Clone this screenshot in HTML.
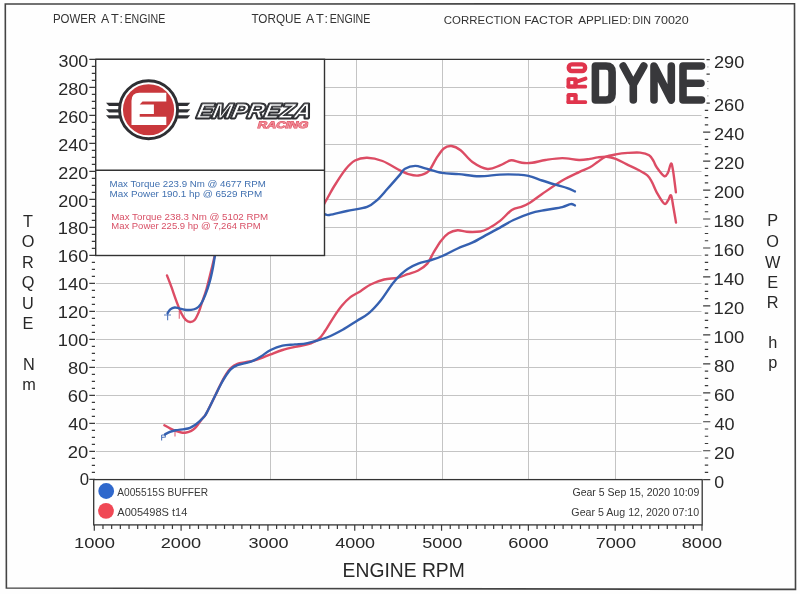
<!DOCTYPE html>
<html><head><meta charset="utf-8"><style>
html,body{margin:0;padding:0;background:#fff;}
svg{display:block;font-family:"Liberation Sans", sans-serif;will-change:transform;}
</style></head><body>
<svg width="800" height="594" viewBox="0 0 800 594">
<rect width="800" height="594" fill="#fefefe"/>
<g stroke="#c4c4c4" stroke-width="1"><line x1="96" y1="451.5" x2="701.5" y2="451.5"/><line x1="96" y1="423.5" x2="701.5" y2="423.5"/><line x1="96" y1="395.5" x2="701.5" y2="395.5"/><line x1="96" y1="367.5" x2="701.5" y2="367.5"/><line x1="96" y1="339.5" x2="701.5" y2="339.5"/><line x1="96" y1="311.5" x2="701.5" y2="311.5"/><line x1="96" y1="283.5" x2="701.5" y2="283.5"/><line x1="96" y1="255.5" x2="701.5" y2="255.5"/><line x1="96" y1="227.5" x2="701.5" y2="227.5"/><line x1="96" y1="199.5" x2="701.5" y2="199.5"/><line x1="96" y1="171.5" x2="701.5" y2="171.5"/><line x1="96" y1="144.5" x2="701.5" y2="144.5"/><line x1="96" y1="115.5" x2="701.5" y2="115.5"/><line x1="96" y1="87.5" x2="701.5" y2="87.5"/><line x1="184.5" y1="59.5" x2="184.5" y2="479.3"/><line x1="270.5" y1="59.5" x2="270.5" y2="479.3"/><line x1="356.5" y1="59.5" x2="356.5" y2="479.3"/><line x1="442.5" y1="59.5" x2="442.5" y2="479.3"/><line x1="528.5" y1="59.5" x2="528.5" y2="479.3"/><line x1="615.5" y1="59.5" x2="615.5" y2="479.3"/></g><path d="M164.40,425.30 C165.33,425.82 168.13,427.47 170.00,428.40 C171.87,429.33 173.72,430.22 175.60,430.90 C177.47,431.58 179.47,432.23 181.25,432.50 C183.03,432.77 184.58,432.77 186.25,432.50 C187.92,432.23 189.79,431.63 191.25,430.90 C192.71,430.17 193.86,429.18 195.00,428.10 C196.14,427.02 196.93,425.92 198.10,424.40 C199.27,422.88 200.85,420.47 202.00,419.00 C203.15,417.53 203.98,417.10 205.00,415.60 C206.02,414.10 206.43,413.27 208.10,410.00 C209.77,406.73 212.85,400.42 215.00,396.00 C217.15,391.58 219.17,387.08 221.00,383.50 C222.83,379.92 224.33,377.08 226.00,374.50 C227.67,371.92 229.10,369.78 231.00,368.00 C232.90,366.22 234.98,364.77 237.40,363.80 C239.82,362.83 242.82,362.73 245.50,362.20 C248.18,361.67 250.88,361.28 253.50,360.60 C256.12,359.92 258.40,359.13 261.25,358.10 C264.10,357.07 267.06,355.75 270.60,354.40 C274.14,353.05 278.43,351.25 282.50,350.00 C286.57,348.75 290.83,347.83 295.00,346.90 C299.17,345.97 303.60,345.68 307.50,344.40 C311.40,343.12 315.45,341.47 318.40,339.20 C321.35,336.93 322.67,334.45 325.20,330.80 C327.73,327.15 330.80,321.50 333.60,317.30 C336.40,313.10 339.20,308.97 342.00,305.60 C344.80,302.23 347.32,299.50 350.40,297.10 C353.48,294.70 357.13,293.30 360.50,291.20 C363.87,289.10 366.67,286.45 370.60,284.50 C374.53,282.55 379.62,280.62 384.10,279.50 C388.58,278.38 393.58,278.68 397.50,277.80 C401.42,276.92 404.15,275.42 407.60,274.20 C411.05,272.98 414.92,272.27 418.20,270.50 C421.48,268.73 424.78,266.52 427.30,263.60 C429.82,260.68 431.03,256.78 433.30,253.00 C435.57,249.22 438.37,244.18 440.90,240.90 C443.43,237.62 445.72,235.07 448.50,233.30 C451.28,231.53 454.57,230.55 457.60,230.30 C460.63,230.05 462.92,231.60 466.70,231.80 C470.48,232.00 476.77,232.00 480.30,231.50 C483.83,231.00 484.62,230.57 487.90,228.80 C491.18,227.03 496.02,224.03 500.00,220.90 C503.98,217.77 508.15,212.38 511.80,210.00 C515.45,207.62 518.82,207.87 521.90,206.60 C524.98,205.33 526.93,204.50 530.30,202.40 C533.67,200.30 536.77,197.65 542.10,194.00 C547.43,190.35 556.13,184.15 562.30,180.50 C568.47,176.85 574.48,174.30 579.10,172.10 C583.72,169.90 586.92,168.98 590.00,167.30 C593.08,165.62 595.07,163.72 597.60,162.00 C600.13,160.28 602.17,158.27 605.20,157.00 C608.23,155.73 612.02,155.08 615.80,154.40 C619.58,153.72 623.87,153.20 627.90,152.90 C631.93,152.60 636.47,152.22 640.00,152.60 C643.53,152.98 646.83,153.77 649.10,155.20 C651.37,156.63 652.33,159.18 653.60,161.20 C654.87,163.22 654.93,164.82 656.70,167.30 C658.47,169.78 662.32,175.22 664.20,176.10 C666.08,176.98 666.87,174.70 668.00,172.60 C669.13,170.50 670.17,163.88 671.00,163.50 C671.83,163.12 672.18,165.50 673.00,170.30 C673.82,175.10 675.42,188.63 675.90,192.30" fill="none" stroke="#dc4c64" stroke-width="2.4" stroke-linejoin="round" stroke-linecap="round"/><path d="M167.00,275.40 C167.73,277.32 169.83,282.62 171.40,286.90 C172.97,291.18 174.75,296.72 176.40,301.10 C178.05,305.48 179.75,310.08 181.30,313.20 C182.85,316.32 184.25,318.33 185.70,319.80 C187.15,321.27 188.55,321.92 190.00,322.00 C191.45,322.08 192.93,321.95 194.40,320.30 C195.87,318.65 197.52,315.12 198.80,312.10 C200.08,309.08 200.82,306.03 202.10,302.20 C203.38,298.37 204.85,294.93 206.50,289.10 C208.15,283.27 210.42,273.72 212.00,267.20 C213.58,260.68 214.33,257.53 216.00,250.00 C217.67,242.47 208.00,222.83 222.00,222.00 C236.00,221.17 282.88,248.17 300.00,245.00 C317.12,241.83 319.03,212.75 324.70,203.00 C330.37,193.25 330.52,192.13 334.00,186.50 C337.48,180.87 342.10,173.53 345.60,169.20 C349.10,164.87 351.42,162.40 355.00,160.50 C358.58,158.60 362.52,157.72 367.10,157.80 C371.68,157.88 377.02,158.90 382.50,161.00 C387.98,163.10 395.68,168.22 400.00,170.40 C404.32,172.58 405.32,173.25 408.40,174.10 C411.48,174.95 415.13,175.98 418.50,175.50 C421.87,175.02 425.65,174.02 428.60,171.20 C431.55,168.38 433.67,162.38 436.20,158.60 C438.73,154.82 441.28,150.60 443.80,148.50 C446.32,146.40 448.50,145.72 451.30,146.00 C454.10,146.28 457.08,147.53 460.60,150.20 C464.12,152.87 467.92,158.87 472.40,162.00 C476.88,165.13 482.90,168.43 487.50,169.00 C492.10,169.57 496.80,166.57 500.00,165.40 C503.20,164.23 504.73,162.85 506.70,162.00 C508.67,161.15 509.27,160.17 511.80,160.30 C514.33,160.43 518.53,162.38 521.90,162.80 C525.27,163.22 528.07,163.27 532.00,162.80 C535.93,162.33 540.45,160.78 545.50,160.00 C550.55,159.22 556.70,158.10 562.30,158.10 C567.90,158.10 574.48,159.87 579.10,160.00 C583.72,160.13 586.92,159.33 590.00,158.90 C593.08,158.47 594.82,157.77 597.60,157.40 C600.38,157.03 603.67,156.45 606.70,156.70 C609.73,156.95 612.52,157.65 615.80,158.90 C619.08,160.15 622.62,162.35 626.40,164.20 C630.18,166.05 634.97,168.10 638.50,170.00 C642.03,171.90 645.33,173.53 647.60,175.60 C649.87,177.67 650.58,179.62 652.10,182.40 C653.62,185.18 654.68,188.77 656.70,192.30 C658.72,195.83 662.32,202.22 664.20,203.60 C666.08,204.98 666.87,201.98 668.00,200.60 C669.13,199.22 670.12,194.28 671.00,195.30 C671.88,196.32 672.47,202.15 673.30,206.70 C674.13,211.25 675.55,219.95 676.00,222.60" fill="none" stroke="#dc4c64" stroke-width="2.4" stroke-linejoin="round" stroke-linecap="round"/><path d="M165.00,434.40 C165.83,433.98 168.23,432.58 170.00,431.90 C171.77,431.22 173.20,430.77 175.60,430.30 C178.00,429.83 182.00,429.52 184.40,429.10 C186.80,428.68 188.23,428.48 190.00,427.80 C191.77,427.12 193.33,426.15 195.00,425.00 C196.67,423.85 198.33,422.47 200.00,420.90 C201.67,419.33 203.65,417.42 205.00,415.60 C206.35,413.78 206.43,413.27 208.10,410.00 C209.77,406.73 212.85,400.33 215.00,396.00 C217.15,391.67 219.17,387.42 221.00,384.00 C222.83,380.58 224.33,378.00 226.00,375.50 C227.67,373.00 229.10,370.72 231.00,369.00 C232.90,367.28 234.98,366.18 237.40,365.20 C239.82,364.22 242.82,363.87 245.50,363.10 C248.18,362.33 250.88,361.74 253.50,360.60 C256.12,359.46 258.40,358.02 261.25,356.25 C264.10,354.48 267.06,351.77 270.60,350.00 C274.14,348.23 278.43,346.53 282.50,345.60 C286.57,344.67 290.83,344.82 295.00,344.40 C299.17,343.98 302.20,344.25 307.50,343.10 C312.80,341.95 320.77,339.83 326.80,337.50 C332.83,335.17 338.65,331.90 343.70,329.10 C348.75,326.30 352.90,323.37 357.10,320.70 C361.30,318.03 364.97,316.47 368.90,313.10 C372.83,309.73 376.77,305.40 380.70,300.50 C384.63,295.60 389.13,288.05 392.50,283.70 C395.87,279.35 398.38,276.87 400.90,274.40 C403.42,271.93 404.72,270.70 407.60,268.90 C410.48,267.10 414.42,265.03 418.20,263.60 C421.98,262.17 426.27,261.57 430.30,260.30 C434.33,259.03 437.85,257.97 442.40,256.00 C446.95,254.03 452.55,250.77 457.60,248.50 C462.65,246.23 467.65,244.80 472.70,242.40 C477.75,240.00 483.35,236.57 487.90,234.10 C492.45,231.63 495.73,229.95 500.00,227.60 C504.27,225.25 508.45,222.38 513.50,220.00 C518.55,217.62 524.97,214.97 530.30,213.30 C535.63,211.63 540.17,211.03 545.50,210.00 C550.83,208.97 558.10,208.08 562.30,207.10 C566.50,206.12 568.60,204.38 570.70,204.10 C572.80,203.82 574.20,205.18 574.90,205.40" fill="none" stroke="#3560b0" stroke-width="2.4" stroke-linejoin="round" stroke-linecap="round"/><path d="M167.60,313.20 C168.05,312.57 169.12,310.35 170.30,309.40 C171.48,308.45 173.23,307.68 174.70,307.50 C176.17,307.32 177.45,307.93 179.10,308.30 C180.75,308.67 182.60,309.43 184.60,309.70 C186.60,309.97 189.10,310.13 191.10,309.90 C193.10,309.67 194.95,309.30 196.60,308.30 C198.25,307.30 199.53,306.18 201.00,303.90 C202.47,301.62 203.93,298.35 205.40,294.60 C206.87,290.85 208.53,285.97 209.80,281.40 C211.07,276.83 211.97,272.43 213.00,267.20 C214.03,261.97 214.50,257.03 216.00,250.00 C217.50,242.97 209.67,231.33 222.00,225.00 C234.33,218.67 274.50,214.00 290.00,212.00 C305.50,210.00 309.22,212.62 315.00,213.00 C320.78,213.38 322.30,213.97 324.70,214.30 C327.10,214.63 325.70,215.55 329.40,215.00 C333.10,214.45 340.62,212.35 346.90,211.00 C353.18,209.65 362.02,208.77 367.10,206.90 C372.18,205.03 374.00,202.82 377.40,199.80 C380.80,196.78 383.73,193.00 387.50,188.80 C391.27,184.60 397.08,177.95 400.00,174.60 C402.92,171.25 402.47,170.15 405.00,168.70 C407.53,167.25 411.82,165.95 415.20,165.90 C418.58,165.85 420.82,167.23 425.30,168.40 C429.78,169.57 436.50,171.95 442.10,172.90 C447.70,173.85 452.73,173.53 458.90,174.10 C465.07,174.67 472.25,176.22 479.10,176.30 C485.95,176.38 493.72,174.88 500.00,174.60 C506.28,174.32 512.03,174.40 516.80,174.60 C521.57,174.80 524.38,174.82 528.60,175.80 C532.82,176.78 537.60,179.02 542.10,180.50 C546.60,181.98 551.40,183.43 555.60,184.70 C559.80,185.97 564.08,186.98 567.30,188.10 C570.52,189.22 573.63,190.85 574.90,191.40" fill="none" stroke="#3560b0" stroke-width="2.4" stroke-linejoin="round" stroke-linecap="round"/><path d="M167.6,313 L167.6,320.3 M164,315 L171,315" stroke="#3560b0" stroke-width="1.2" fill="none" opacity="0.8"/><path d="M179.3,311 L179.3,318.7" stroke="#dc4c64" stroke-width="1.2" fill="none" opacity="0.8"/><path d="M161.6,435 L161.6,440.6 M161.6,435 L165.3,435 L165.3,437 L161.6,437.5" stroke="#3560b0" stroke-width="1.1" fill="none" opacity="0.85"/><path d="M175,431.9 L175,436.6" stroke="#dc4c64" stroke-width="1.2" fill="none" opacity="0.8"/><rect x="95.7" y="59.3" width="228.8" height="196.2" fill="#fff" stroke="#333" stroke-width="1.4"/><line x1="95.7" y1="170.3" x2="324.5" y2="170.3" stroke="#333" stroke-width="1.6"/><line x1="95.7" y1="59.4" x2="704.5" y2="59.4" stroke="#333" stroke-width="1.3"/><text x="109.61" y="187.40" font-size="9.52" fill="#4070b0" textLength="156.28" lengthAdjust="spacingAndGlyphs">Max Torque 223.9 Nm @ 4677 RPM</text><text x="109.59" y="197.30" font-size="9.52" fill="#4070b0" textLength="152.52" lengthAdjust="spacingAndGlyphs">Max Power 190.1 hp @ 6529 RPM</text><text x="111.21" y="219.50" font-size="9.52" fill="#d85066" textLength="156.88" lengthAdjust="spacingAndGlyphs">Max Torque 238.3 Nm @ 5102 RPM</text><text x="111.22" y="228.90" font-size="9.52" fill="#d85066" textLength="149.46" lengthAdjust="spacingAndGlyphs">Max Power 225.9 hp @ 7,264 RPM</text><path d="M707,95.91H708.6 M707,88.67H708.6 M707,81.42H708.6 M707,66.94H708.6" stroke="#aaa" stroke-width="1" fill="none"/><path d="M89.3,479.30H95 M91.8,472.30H95 M91.8,465.30H95 M91.8,458.30H95 M89.3,451.30H95 M91.8,444.30H95 M91.8,437.30H95 M91.8,430.30H95 M89.3,423.30H95 M91.8,416.30H95 M91.8,409.30H95 M91.8,402.30H95 M89.3,395.30H95 M91.8,388.30H95 M91.8,381.30H95 M91.8,374.30H95 M89.3,367.30H95 M91.8,360.30H95 M91.8,353.30H95 M91.8,346.30H95 M89.3,339.30H95 M91.8,332.30H95 M91.8,325.30H95 M91.8,318.30H95 M89.3,311.30H95 M91.8,304.30H95 M91.8,297.30H95 M91.8,290.30H95 M89.3,283.30H95 M91.8,276.30H95 M91.8,269.30H95 M91.8,262.30H95 M89.3,255.30H95 M91.8,248.30H95 M91.8,241.30H95 M91.8,234.30H95 M89.3,227.30H95 M91.8,220.30H95 M91.8,213.30H95 M91.8,206.30H95 M89.3,199.30H95 M91.8,192.30H95 M91.8,185.30H95 M91.8,178.30H95 M89.3,171.30H95 M91.8,164.30H95 M91.8,157.30H95 M91.8,150.30H95 M89.3,143.30H95 M91.8,136.30H95 M91.8,129.30H95 M91.8,122.30H95 M89.3,115.30H95 M91.8,108.30H95 M91.8,101.30H95 M91.8,94.30H95 M89.3,87.30H95 M91.8,80.30H95 M91.8,73.30H95 M91.8,66.30H95 M89.3,59.30H95 M703.1,479.70H710.3 M704.8,472.46H708.2 M704.8,465.22H708.2 M704.8,457.98H708.2 M703.1,450.73H710.3 M704.8,443.49H708.2 M704.8,436.25H708.2 M704.8,429.01H708.2 M703.1,421.77H710.3 M704.8,414.53H708.2 M704.8,407.29H708.2 M704.8,400.04H708.2 M703.1,392.80H710.3 M704.8,385.56H708.2 M704.8,378.32H708.2 M704.8,371.08H708.2 M703.1,363.84H710.3 M704.8,356.60H708.2 M704.8,349.36H708.2 M704.8,342.11H708.2 M703.1,334.87H710.3 M704.8,327.63H708.2 M704.8,320.39H708.2 M704.8,313.15H708.2 M703.1,305.91H710.3 M704.8,298.67H708.2 M704.8,291.42H708.2 M704.8,284.18H708.2 M703.1,276.94H710.3 M704.8,269.70H708.2 M704.8,262.46H708.2 M704.8,255.22H708.2 M703.1,247.98H710.3 M704.8,240.73H708.2 M704.8,233.49H708.2 M704.8,226.25H708.2 M703.1,219.01H710.3 M704.8,211.77H708.2 M704.8,204.53H708.2 M704.8,197.29H708.2 M703.1,190.04H710.3 M704.8,182.80H708.2 M704.8,175.56H708.2 M704.8,168.32H708.2 M703.1,161.08H710.3 M704.8,153.84H708.2 M704.8,146.60H708.2 M704.8,139.36H708.2 M703.1,132.11H710.3 M704.8,124.87H708.2 M704.8,117.63H708.2 M704.8,110.39H708.2 M706.5,103.15H709.8 M706.5,74.18H709.8 M706.5,59.70H709.8 M94.30,525V530.8 M102.98,525V528.9 M111.66,525V528.9 M120.34,525V528.9 M129.03,525V528.9 M137.71,525V528.9 M146.39,525V528.9 M155.07,525V528.9 M163.75,525V528.9 M172.43,525V528.9 M181.11,525V530.8 M189.80,525V528.9 M198.48,525V528.9 M207.16,525V528.9 M215.84,525V528.9 M224.52,525V528.9 M233.20,525V528.9 M241.88,525V528.9 M250.57,525V528.9 M259.25,525V528.9 M267.93,525V530.8 M276.61,525V528.9 M285.29,525V528.9 M293.97,525V528.9 M302.65,525V528.9 M311.34,525V528.9 M320.02,525V528.9 M328.70,525V528.9 M337.38,525V528.9 M346.06,525V528.9 M354.74,525V530.8 M363.42,525V528.9 M372.11,525V528.9 M380.79,525V528.9 M389.47,525V528.9 M398.15,525V528.9 M406.83,525V528.9 M415.51,525V528.9 M424.19,525V528.9 M432.88,525V528.9 M441.56,525V530.8 M450.24,525V528.9 M458.92,525V528.9 M467.60,525V528.9 M476.28,525V528.9 M484.96,525V528.9 M493.65,525V528.9 M502.33,525V528.9 M511.01,525V528.9 M519.69,525V528.9 M528.37,525V530.8 M537.05,525V528.9 M545.73,525V528.9 M554.42,525V528.9 M563.10,525V528.9 M571.78,525V528.9 M580.46,525V528.9 M589.14,525V528.9 M597.82,525V528.9 M606.50,525V528.9 M615.19,525V530.8 M623.87,525V528.9 M632.55,525V528.9 M641.23,525V528.9 M649.91,525V528.9 M658.59,525V528.9 M667.27,525V528.9 M675.96,525V528.9 M684.64,525V528.9 M693.32,525V528.9 M702.00,525V530.8" stroke="#3a3a3a" stroke-width="1.2" fill="none"/><text x="79.75" y="485.40" font-size="15.90" fill="#282828" textLength="9.31" lengthAdjust="spacingAndGlyphs" >0</text><text x="67.88" y="457.51" font-size="15.90" fill="#282828" textLength="20.44" lengthAdjust="spacingAndGlyphs" >20</text><text x="68.39" y="429.63" font-size="15.90" fill="#282828" textLength="19.91" lengthAdjust="spacingAndGlyphs" >40</text><text x="67.87" y="401.74" font-size="15.90" fill="#282828" textLength="20.45" lengthAdjust="spacingAndGlyphs" >60</text><text x="68.01" y="373.86" font-size="15.90" fill="#282828" textLength="20.31" lengthAdjust="spacingAndGlyphs" >80</text><text x="57.86" y="345.97" font-size="15.90" fill="#282828" textLength="30.45" lengthAdjust="spacingAndGlyphs" >100</text><text x="57.86" y="318.08" font-size="15.90" fill="#282828" textLength="30.45" lengthAdjust="spacingAndGlyphs" >120</text><text x="57.86" y="290.20" font-size="15.90" fill="#282828" textLength="30.45" lengthAdjust="spacingAndGlyphs" >140</text><text x="57.86" y="262.31" font-size="15.90" fill="#282828" textLength="30.45" lengthAdjust="spacingAndGlyphs" >160</text><text x="57.86" y="234.43" font-size="15.90" fill="#282828" textLength="30.45" lengthAdjust="spacingAndGlyphs" >180</text><text x="58.35" y="206.54" font-size="15.90" fill="#282828" textLength="29.95" lengthAdjust="spacingAndGlyphs" >200</text><text x="58.35" y="178.65" font-size="15.90" fill="#282828" textLength="29.95" lengthAdjust="spacingAndGlyphs" >220</text><text x="58.35" y="150.77" font-size="15.90" fill="#282828" textLength="29.95" lengthAdjust="spacingAndGlyphs" >240</text><text x="58.35" y="122.88" font-size="15.90" fill="#282828" textLength="29.95" lengthAdjust="spacingAndGlyphs" >260</text><text x="58.35" y="95.00" font-size="15.90" fill="#282828" textLength="29.95" lengthAdjust="spacingAndGlyphs" >280</text><text x="58.57" y="67.11" font-size="15.90" fill="#282828" textLength="29.72" lengthAdjust="spacingAndGlyphs" >300</text><text x="713.99" y="68.00" font-size="16.04" fill="#282828" textLength="30.27" lengthAdjust="spacingAndGlyphs" >290</text><text x="714.21" y="487.60" font-size="16.04" fill="#282828" textLength="9.89" lengthAdjust="spacingAndGlyphs" >0</text><text x="713.97" y="458.60" font-size="16.04" fill="#282828" textLength="20.66" lengthAdjust="spacingAndGlyphs" >20</text><text x="714.48" y="429.60" font-size="16.04" fill="#282828" textLength="20.12" lengthAdjust="spacingAndGlyphs" >40</text><text x="713.96" y="400.60" font-size="16.04" fill="#282828" textLength="20.67" lengthAdjust="spacingAndGlyphs" >60</text><text x="714.10" y="371.60" font-size="16.04" fill="#282828" textLength="20.52" lengthAdjust="spacingAndGlyphs" >80</text><text x="713.49" y="342.60" font-size="16.04" fill="#282828" textLength="30.78" lengthAdjust="spacingAndGlyphs" >100</text><text x="713.49" y="313.60" font-size="16.04" fill="#282828" textLength="30.78" lengthAdjust="spacingAndGlyphs" >120</text><text x="713.49" y="284.60" font-size="16.04" fill="#282828" textLength="30.78" lengthAdjust="spacingAndGlyphs" >140</text><text x="713.49" y="255.60" font-size="16.04" fill="#282828" textLength="30.78" lengthAdjust="spacingAndGlyphs" >160</text><text x="713.49" y="226.60" font-size="16.04" fill="#282828" textLength="30.78" lengthAdjust="spacingAndGlyphs" >180</text><text x="713.99" y="197.60" font-size="16.04" fill="#282828" textLength="30.27" lengthAdjust="spacingAndGlyphs" >200</text><text x="713.99" y="168.60" font-size="16.04" fill="#282828" textLength="30.27" lengthAdjust="spacingAndGlyphs" >220</text><text x="713.99" y="139.60" font-size="16.04" fill="#282828" textLength="30.27" lengthAdjust="spacingAndGlyphs" >240</text><text x="713.99" y="110.60" font-size="16.04" fill="#282828" textLength="30.27" lengthAdjust="spacingAndGlyphs" >260</text><text x="74.10" y="548.30" font-size="14.89" fill="#282828" textLength="40.92" lengthAdjust="spacingAndGlyphs" >1000</text><text x="160.69" y="548.30" font-size="14.89" fill="#282828" textLength="40.42" lengthAdjust="spacingAndGlyphs" >2000</text><text x="248.41" y="548.30" font-size="14.89" fill="#282828" textLength="40.19" lengthAdjust="spacingAndGlyphs" >3000</text><text x="335.19" y="548.30" font-size="14.89" fill="#282828" textLength="39.91" lengthAdjust="spacingAndGlyphs" >4000</text><text x="422.18" y="548.30" font-size="14.89" fill="#282828" textLength="40.23" lengthAdjust="spacingAndGlyphs" >5000</text><text x="508.18" y="548.30" font-size="14.89" fill="#282828" textLength="40.43" lengthAdjust="spacingAndGlyphs" >6000</text><text x="595.67" y="548.30" font-size="14.89" fill="#282828" textLength="40.44" lengthAdjust="spacingAndGlyphs" >7000</text><text x="681.81" y="548.30" font-size="14.89" fill="#282828" textLength="40.29" lengthAdjust="spacingAndGlyphs" >8000</text><text x="342.62" y="577.30" font-size="20.77" fill="#282828" textLength="122.16" lengthAdjust="spacingAndGlyphs" >ENGINE RPM</text><text x="28.00" y="227.00" font-size="16.3" fill="#282828" text-anchor="middle" font-weight="normal" >T</text><text x="28.00" y="247.40" font-size="16.3" fill="#282828" text-anchor="middle" font-weight="normal" >O</text><text x="28.00" y="267.80" font-size="16.3" fill="#282828" text-anchor="middle" font-weight="normal" >R</text><text x="28.00" y="288.20" font-size="16.3" fill="#282828" text-anchor="middle" font-weight="normal" >Q</text><text x="28.00" y="308.60" font-size="16.3" fill="#282828" text-anchor="middle" font-weight="normal" >U</text><text x="28.00" y="329.00" font-size="16.3" fill="#282828" text-anchor="middle" font-weight="normal" >E</text><text x="28.80" y="369.60" font-size="16.3" fill="#282828" text-anchor="middle" font-weight="normal" >N</text><text x="29.00" y="390.00" font-size="16.3" fill="#282828" text-anchor="middle" font-weight="normal" >m</text><text x="772.70" y="225.80" font-size="16.3" fill="#282828" text-anchor="middle" font-weight="normal" >P</text><text x="772.70" y="246.60" font-size="16.3" fill="#282828" text-anchor="middle" font-weight="normal" >O</text><text x="772.70" y="267.50" font-size="16.3" fill="#282828" text-anchor="middle" font-weight="normal" >W</text><text x="772.70" y="288.00" font-size="16.3" fill="#282828" text-anchor="middle" font-weight="normal" >E</text><text x="772.70" y="307.50" font-size="16.3" fill="#282828" text-anchor="middle" font-weight="normal" >R</text><text x="772.70" y="348.20" font-size="16.3" fill="#282828" text-anchor="middle" font-weight="normal" >h</text><text x="772.70" y="368.40" font-size="16.3" fill="#282828" text-anchor="middle" font-weight="normal" >p</text><text x="52.96" y="23.00" font-size="11.89" fill="#333333" textLength="43.27" lengthAdjust="spacingAndGlyphs" >POWER</text><text x="124.53" y="23.00" font-size="11.89" fill="#333333" textLength="40.73" lengthAdjust="spacingAndGlyphs" >ENGINE</text><text x="251.44" y="23.00" font-size="11.89" fill="#333333" textLength="49.86" lengthAdjust="spacingAndGlyphs" >TORQUE</text><text x="329.63" y="23.00" font-size="11.89" fill="#333333" textLength="40.73" lengthAdjust="spacingAndGlyphs" >ENGINE</text><text x="100.98" y="23.00" font-size="12.06" fill="#333333" textLength="8.25" lengthAdjust="spacingAndGlyphs" >A</text><text x="110.91" y="23.00" font-size="12.06" fill="#333333" textLength="7.78" lengthAdjust="spacingAndGlyphs" >T</text><text x="119.6" y="23.0" font-size="12.4" fill="#333333">:</text><text x="305.98" y="23.00" font-size="12.06" fill="#333333" textLength="8.25" lengthAdjust="spacingAndGlyphs" >A</text><text x="315.91" y="23.00" font-size="12.06" fill="#333333" textLength="7.78" lengthAdjust="spacingAndGlyphs" >T</text><text x="324.6" y="23.0" font-size="12.4" fill="#333333">:</text><text x="443.82" y="24.00" font-size="11.46" fill="#333333" textLength="76.91" lengthAdjust="spacingAndGlyphs" >CORRECTION</text><text x="524.22" y="24.00" font-size="11.46" fill="#333333" textLength="49.13" lengthAdjust="spacingAndGlyphs" >FACTOR</text><text x="578.18" y="24.00" font-size="11.63" fill="#333333" textLength="52.69" lengthAdjust="spacingAndGlyphs" >APPLIED:</text><text x="632.52" y="24.00" font-size="11.63" fill="#333333" textLength="18.45" lengthAdjust="spacingAndGlyphs" >DIN</text><text x="653.96" y="24.00" font-size="11.46" fill="#333333" textLength="34.83" lengthAdjust="spacingAndGlyphs" >70020</text><rect x="93.7" y="479.6" width="608.5" height="45.3" fill="#fff" stroke="#333" stroke-width="1.3"/><circle cx="106.2" cy="491" r="7.9" fill="#2f68cc"/><circle cx="106" cy="510.8" r="7.9" fill="#f04855"/><text x="117.28" y="495.60" font-size="10.31" fill="#3a3a3a" textLength="90.89" lengthAdjust="spacingAndGlyphs" >A005515S BUFFER</text><text x="117.28" y="515.60" font-size="10.31" fill="#3a3a3a" textLength="70.15" lengthAdjust="spacingAndGlyphs" >A005498S t14</text><text x="572.47" y="496.30" font-size="10.45" fill="#333" textLength="126.83" lengthAdjust="spacingAndGlyphs" >Gear 5 Sep 15, 2020 10:09</text><text x="571.37" y="516.30" font-size="10.03" fill="#3a3a3a" textLength="127.85" lengthAdjust="spacingAndGlyphs" >Gear 5 Aug 12, 2020 07:10</text><path d="M5.3,4 L794.5,3.8 L795.5,589.4 L6.4,588 Z" fill="none" stroke="#444" stroke-width="1.6"/><circle cx="148.55" cy="109.75" r="29.0" fill="none" stroke="#2e2f33" stroke-width="2.9"/><circle cx="148.55" cy="109.75" r="25.6" fill="#c9383c"/><path d="M139.5,92.7 H166.3 V101.5 H142.5 L139.7,104.5 V104.5 H153.9 V113.9 H139.7 V116.8 H166.3 V125.1 H131.5 V100.7 Q131.5,92.7 139.5,92.7 Z" fill="#fff"/><path d="M106,102.8 L120.5,102.8 L120.5,106.0 L109,106.0 Z" fill="#2e2f33"/><path d="M176.6,102.8 L190.2,102.8 L187.4,106.0 L176.6,106.0 Z" fill="#2e2f33"/><path d="M106,109.2 L120.5,109.2 L120.5,112.4 L109,112.4 Z" fill="#2e2f33"/><path d="M176.6,109.2 L190.2,109.2 L187.4,112.4 L176.6,112.4 Z" fill="#2e2f33"/><path d="M106,115.2 L120.5,115.2 L120.5,118.4 L109,118.4 Z" fill="#2e2f33"/><path d="M176.6,115.2 L190.2,115.2 L187.4,118.4 L176.6,118.4 Z" fill="#2e2f33"/><g transform="translate(0,118.2) skewX(-11) translate(0,-118.2)"><text x="196" y="118.2" font-size="20.6" font-weight="bold" font-style="italic" fill="#fff" stroke="#2e2f33" stroke-width="2.8" stroke-linejoin="round" textLength="114" lengthAdjust="spacingAndGlyphs" paint-order="stroke">EMPREZA</text><text x="196" y="118.2" font-size="20.6" font-weight="bold" font-style="italic" fill="none" stroke="#2e2f33" stroke-width="0.9" textLength="114" lengthAdjust="spacingAndGlyphs">EMPREZA</text></g><g transform="translate(0,128.2) skewX(-16) translate(0,-128.2)"><text x="257" y="128.2" font-size="9.4" font-weight="bold" fill="#ee8894" stroke="#e04c5e" stroke-width="0.9" paint-order="stroke" textLength="50.5" lengthAdjust="spacingAndGlyphs">RACING</text></g><rect x="565" y="60.2" width="137.5" height="45.5" fill="#fefefe"/><path d="M595.4,66 H606 Q612.1,66 612.1,72 V94 Q612.1,100 606,100 H595.4 Z" fill="none" stroke="#38383b" stroke-width="7.6" stroke-linejoin="round"/><path d="M623.2,66 L633.3,84.5 L643.8,66 M633.3,84.5 V100" fill="none" stroke="#38383b" stroke-width="7.6" stroke-linecap="round" stroke-linejoin="round"/><path d="M654,100 V66 L671.3,100 V66" fill="none" stroke="#38383b" stroke-width="7.6" stroke-linecap="round" stroke-linejoin="round"/><path d="M701.5,66 H683 V100 H701.5 M683,83.2 H701" fill="none" stroke="#38383b" stroke-width="7.6" stroke-linecap="round" stroke-linejoin="round"/><rect x="568.8" y="64.4" width="16.3" height="6.6" rx="3" fill="none" stroke="#e0344c" stroke-width="4.4"/><g fill="#e0344c"><rect x="566.5" y="77.3" width="11.2" height="11.2" rx="2.2"/><rect x="566.5" y="84.7" width="20.6" height="3.8" rx="1.6"/><path d="M576.8,81.6 L585.5,78.6" stroke="#e0344c" stroke-width="3.9" stroke-linecap="round"/><rect x="566.5" y="93.0" width="11.2" height="11.0" rx="2.2"/><rect x="566.5" y="100.2" width="20.6" height="3.8" rx="1.6"/></g><rect x="570.3" y="81.0" width="3.0" height="3.3" fill="#fefefe"/><rect x="570.4" y="97.0" width="3.0" height="3.3" fill="#fefefe"/>
</svg></body></html>
